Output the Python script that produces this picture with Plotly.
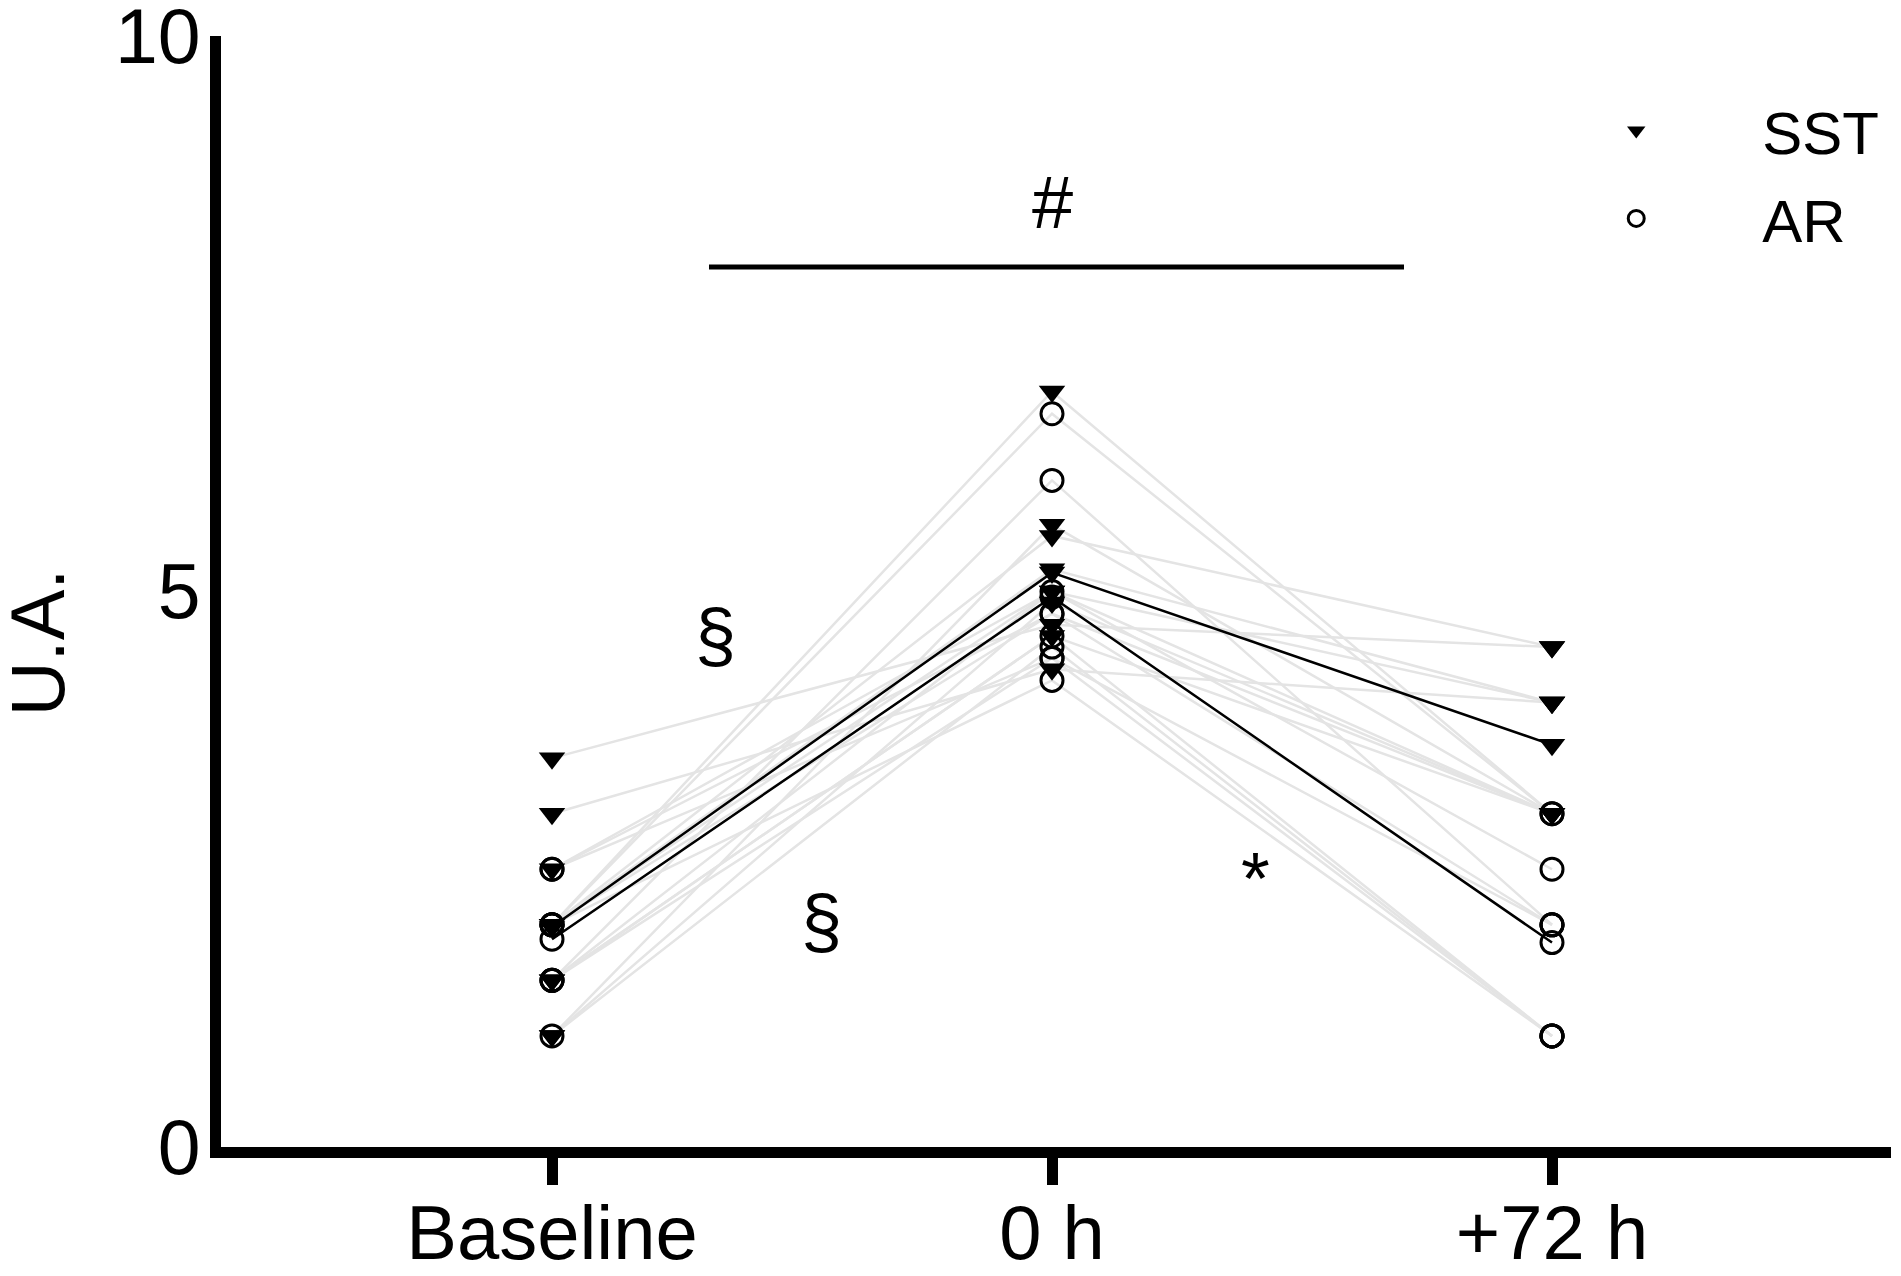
import plotly.graph_objects as go

FONT = 'Liberation Sans, Arial, sans-serif'
grayLine = '#e4e4e4'

time_labels = ['Baseline', '0 h', '+72 h']
time_pos = [0, 1, 2]

# individual subjects (same index = same subject)
sst_baseline = [3.5, 3.0, 2.5, 2.0, 2.0, 2.0, 1.5, 1.5, 1.0, 1.0]
sst_0h = [4.7, 4.3, 5.0, 5.5, 6.8, 5.2, 5.0, 4.6, 5.6, 4.9]
sst_72h = [4.5, 4.0, 4.0, 4.5, 3.0, 4.0, 3.0, 3.0, 3.0, 3.0]

ar_baseline = [2.5, 2.5, 2.0, 2.0, 2.0, 2.0, 1.5, 1.5, 1.5, 1.0]
ar_0h = [4.8, 4.4, 6.6, 5.0, 4.2, 4.8, 6.0, 4.4, 4.6, 4.5]
ar_72h = [3.0, 2.0, 3.0, 2.5, 1.0, 2.0, 2.0, 1.0, 1.0, 1.0]

# group means
sst_mean = [1.98, 5.17, 3.62]
ar_mean = [1.87, 4.95, 1.84]


def subjectLines(*cols):
    xs, ys = [], []
    for vals in zip(*cols):
        xs += time_pos + [None]
        ys += list(vals) + [None]
    return xs, ys


def points(*cols):
    xs, ys = [], []
    for pos, col in zip(time_pos, cols):
        xs += [pos] * len(col)
        ys += list(col)
    return xs, ys


fig = go.Figure()

# grey subject lines
for cols in [(sst_baseline, sst_0h, sst_72h), (ar_baseline, ar_0h, ar_72h)]:
    lx, ly = subjectLines(*cols)
    fig.add_trace(go.Scatter(
        x=lx, y=ly, mode='lines',
        line=dict(color=grayLine, width=2.5),
        showlegend=False, hoverinfo='skip'))

sstMarker = dict(symbol='triangle-down', size=23, color='black')
arMarker = dict(symbol='circle-open', size=22, color='black',
                line=dict(color='black', width=3))

px_, py_ = points(sst_baseline, sst_0h, sst_72h)
fig.add_trace(go.Scatter(
    x=px_, y=py_, mode='markers', name='SST',
    marker=sstMarker, legendgroup='sst'))

px_, py_ = points(ar_baseline, ar_0h, ar_72h)
fig.add_trace(go.Scatter(
    x=px_, y=py_, mode='markers', name='AR',
    marker=arMarker, legendgroup='ar'))

# means
fig.add_trace(go.Scatter(
    x=time_pos, y=sst_mean, mode='lines+markers',
    line=dict(color='black', width=2.5),
    marker=sstMarker, showlegend=False))
fig.add_trace(go.Scatter(
    x=time_pos, y=ar_mean, mode='lines+markers',
    line=dict(color='black', width=2.5),
    marker=arMarker, showlegend=False))

# significance bar and symbols
fig.add_shape(type='line', xref='x', yref='y',
              x0=0.314, x1=1.704, y0=7.92, y1=7.92,
              line=dict(color='black', width=5))

marks = [
    ('#', 1.0, 8.5),
    ('§', 0.326, 4.6),
    ('§', 0.538, 2.03),
    ('*', 1.406, 2.42),
]
for txt, mx, my in marks:
    fig.add_annotation(x=mx, y=my, text=txt, showarrow=False,
                       font=dict(family=FONT, size=74, color='black'))

fig.add_annotation(xref='paper', yref='paper', x=-0.110, y=0.4545,
                   xanchor='center', yanchor='middle',
                   text='U.A.', textangle=-90, showarrow=False,
                   font=dict(family=FONT, size=76, color='black'))

# page body keeps an 8px margin, so the figure is shifted by 8px
fig.update_layout(
    width=1885, height=1268,
    margin=dict(l=213, r=2, t=28, b=129, autoexpand=False),
    plot_bgcolor='white', paper_bgcolor='white',
    font=dict(family=FONT, color='black'),
    legend=dict(
        x=0.772, y=0.956, xanchor='left', yanchor='top',
        font=dict(family=FONT, size=60, color='black'),
        itemwidth=242, traceorder='grouped', tracegroupgap=7,
        bgcolor='rgba(0,0,0,0)'),
)
fig.update_xaxes(
    range=[-0.662, 2.678], automargin=False,
    tickvals=time_pos, ticktext=time_labels,
    ticks='outside', ticklen=27, tickwidth=11, tickcolor='black',
    ticklabelstandoff=-17,
    showline=True, linewidth=11, linecolor='black',
    showgrid=False, zeroline=False,
    tickfont=dict(family=FONT, size=76, color='black'))
fig.update_yaxes(
    range=[0, 10], automargin=False, ticklabeloverflow='allow',
    tickvals=[0, 5, 10], ticks='', ticklabelstandoff=-6,
    showline=True, linewidth=11, linecolor='black',
    showgrid=False, zeroline=False,
    tickfont=dict(family=FONT, size=77, color='black'))

fig.write_html('out.html')
